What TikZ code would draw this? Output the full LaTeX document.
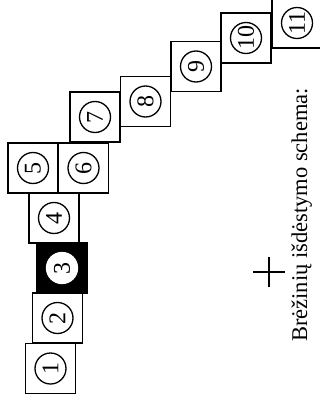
\documentclass[tikz,border=0pt]{standalone}
\usepackage{fontspec}
\setmainfont{Liberation Serif}
\begin{document}
\begin{tikzpicture}[x=1pt,y=-1pt,
  box/.style={draw=black,line width=1.4pt,minimum size=50pt,inner sep=0pt,fill=white},
  num/.style={circle,draw=black,line width=1.3pt,minimum size=31pt,inner sep=0pt,rotate=90,font=\fontsize{24}{24}\selectfont},
  lbl/.style={rotate=90,anchor=base,font=\fontsize{22.5}{27}\selectfont}]
\fill[white] (0,0) rectangle (320,396);
\useasboundingbox (0,0) rectangle (320,396);
\begin{scope}
\clip (0,0) rectangle (320,396);
\node[box] (b1) at (50.5,368.5) {};
\node[box] (b2) at (57.5,318) {};
\node[box,fill=black] (b3) at (62,268) {};
\node[box] (b4) at (54,218) {};
\node[box] (b5) at (33,168) {};
\node[box] (b6) at (83.5,168) {};
\node[box] (b7) at (95,117) {};
\node[box] (b8) at (145.5,101.5) {};
\node[box] (b9) at (196,66.5) {};
\node[box] (b10) at (246,38) {};
\node[box] (b11) at (297,23) {};
\node[num] (c1) at (b1.center) {1};
\node[num] (c2) at (b2.center) {2};
\node[num,fill=white,draw=white] (c3) at (b3.center) {3};
\node[num] (c4) at (b4.center) {4};
\node[num] (c5) at (b5.center) {5};
\node[num] (c6) at (b6.center) {6};
\node[num] (c7) at (b7.center) {7};
\node[num] (c8) at (b8.center) {8};
\node[num] (c9) at (b9.center) {9};
\node[num] (c10) at (b10.center) {10};
\node[num] (c11) at (b11.center) {11};
\end{scope}
\coordinate (x0) at (269,272);
\draw[line width=1.1pt] ([xshift=-16pt]x0) -- ([xshift=16pt]x0);
\draw[line width=1.1pt] ([yshift=15pt]x0) -- ([yshift=-15pt]x0);
\node[lbl] (t) at (307,215) {Brėžinių išdėstymo schema:};
\end{tikzpicture}
\end{document}
